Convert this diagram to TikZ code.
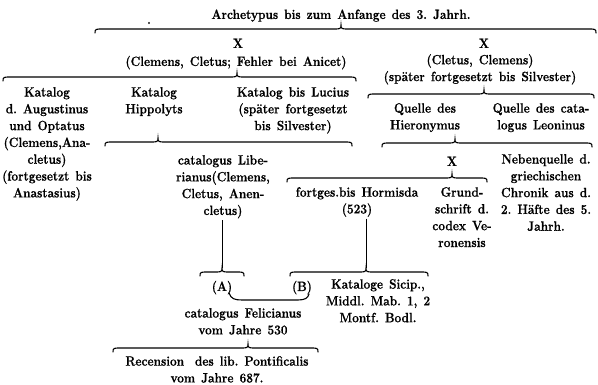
\documentclass[tikz,border=0pt]{standalone}
\usepackage{fontspec}
\newfontfamily\reffont{Latin Modern Roman}[FakeStretch=0.88,FakeBold=0.6]
\tikzset{
  txt/.style={anchor=north, inner sep=0pt, align=center,
    font=\reffont\fontsize{13.5}{16.8}\selectfont\bfseries,
    execute at begin node={\frenchspacing\spaceskip=0.45em plus 0.1em\relax\strut}},
  bracestyle/.style={line width=1.1pt, line cap=round},
  stem/.style={line width=0.7pt}
}
\newcommand{\T}[4]{\node[txt] (#1) at ({#2},{-(#3)+8}) {#4};}
% x1, x2, xc, y, d (d>0: cusp up, ends down)
\newcommand{\hbrace}[5]{%
\draw[bracestyle] ({#1},{-(#4)-(#5)}) .. controls ({#1},{-(#4)}) and ({#1+1},{-(#4)}) .. ({#1+7},{-(#4)})
 -- ({#3-7},{-(#4)}) .. controls ({#3-1},{-(#4)}) and ({#3},{-(#4)}) .. ({#3},{-(#4)+(#5)})
 .. controls ({#3},{-(#4)}) and ({#3+1},{-(#4)}) .. ({#3+7},{-(#4)})
 -- ({#2-7},{-(#4)}) .. controls ({#2-1},{-(#4)}) and ({#2},{-(#4)}) .. ({#2},{-(#4)-(#5)});}
\begin{document}
\begin{tikzpicture}[x=1pt,y=1pt]
\useasboundingbox (0,0) rectangle (598,-385);
\T{title}{341}{15}{Archetypus bis zum Anfange des 3. Jahrh.}
\T{dot}{149}{20}{.}
\hbrace{95}{596}{341}{29}{4}
\T{xa}{238}{44}{X}
\T{cca}{236}{62}{(Clemens, Cletus; Fehler bei Anicet)}
\T{xb}{484}{44}{X}
\T{ccb}{480}{62}{(Cletus, Clemens)\\(später fortgesetzt bis Silvester)}
\hbrace{3}{356}{237}{77}{4}
\hbrace{368}{594}{484}{94}{4}
\T{kat1}{47}{95}{Katalog\\d. Augustinus\\und Optatus\\(Clemens,Ana-\\cletus)\\(fortgesetzt bis\\Anastasius)}
\T{kat2}{154}{95}{Katalog\\Hippolyts}
\T{kat3}{293}{95}{Katalog bis Lucius\\(später fortgesetzt\\bis Silvester)}
\T{q1}{425}{111}{Quelle des\\Hieronymus}
\T{q2}{541}{111}{Quelle des cata-\\logus Leoninus}
\hbrace{105}{352}{158}{142}{4}
\hbrace{382}{592}{455}{143}{4}
\T{lib}{223}{163}{catalogus Libe-\\rianus(Clemens,\\Cletus, Anen-\\cletus)}
\T{xc}{452}{162}{X}
\T{neb}{546}{162}{Nebenquelle d.\\griechischen\\Chronik aus d.\\2. Häfte des 5.\\Jahrh.}
\hbrace{287}{487}{452}{178}{4}
\T{horm}{357}{195}{fortges.bis Hormisda\\(523)}
\T{grund}{462}{195}{Grund-\\schrift d.\\codex Ve-\\ronensis}
\coordinate (gc) at (222,-268);
\coordinate (hc) at (366,-268);
\draw[stem] (lib.south -| gc) -- (gc);
\draw[stem] (horm.south -| hc) -- (hc);
\hbrace{200}{244}{222}{272}{4}
\hbrace{290}{428}{366}{272}{4}
\T{A}{222}{287}{(A)}
\T{B}{302}{287}{(B)}
\T{sicip}{378}{287}{Kataloge Sicip.,\\Middl. Mab. 1, 2\\Montf. Bodl.}
\draw[bracestyle] (229,-293) .. controls (231,-299) and (235,-300) .. (242,-300) -- (298,-300) .. controls (305,-300) and (308,-298) .. (309,-294);
\T{fel}{243}{316}{catalogus Felicianus\\vom Jahre 530}
\hbrace{113}{318}{248}{348}{4}
\T{rec}{217}{364}{Recension\hspace{0.8em}des lib. Pontificalis\\vom Jahre 687.}
\end{tikzpicture}
\end{document}
